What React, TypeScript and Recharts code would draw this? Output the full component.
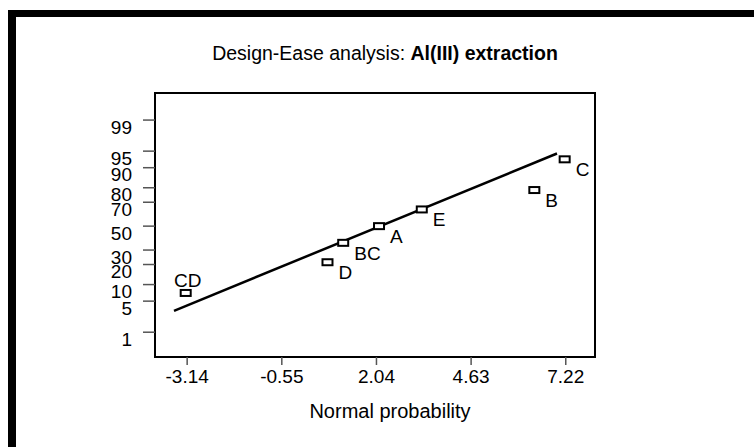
import { ComposedChart, Scatter, XAxis, YAxis, ReferenceArea, ReferenceLine } from 'recharts';

// effects
const effectNames = ['CD', 'D', 'BC', 'A', 'E', 'B', 'C'];
const effectValues = [-3.18, 0.7, 1.13, 2.11, 3.28, 6.36, 7.19];
const probabilityPct = [7.14, 21.43, 35.71, 50, 64.29, 78.57, 92.86];

// fitted line end points
const fitEffect = [-3.5, 6.98];
const fitPct = [3.17, 94.45];

const xTicks = [-3.14, -0.55, 2.04, 4.63, 7.22];
const yTickPct = [1, 5, 10, 20, 30, 50, 70, 80, 90, 95, 99];

const FONT = '"Liberation Sans", Arial, sans-serif';

// inverse of the standard normal CDF (Acklam), p in (0, 1)
function probit(p: number): number {
  const a = [-39.69683028665376, 220.9460984245205, -275.9285104469687, 138.357751867269, -30.66479806614716, 2.506628277459239];
  const b = [-54.47609879822406, 161.5858368580409, -155.6989798598866, 66.80131188771972, -13.28068155288572];
  const c = [-0.007784894002430293, -0.3223964580411365, -2.400758277161838, -2.549732539343734, 4.374664141464968, 2.938163982698783];
  const d = [0.007784695709041462, 0.3224671290700398, 2.445134137142996, 3.754408661907416];
  const lo = 0.02425;
  if (p < lo) {
    const q = Math.sqrt(-2 * Math.log(p));
    return (((((c[0] * q + c[1]) * q + c[2]) * q + c[3]) * q + c[4]) * q + c[5]) / ((((d[0] * q + d[1]) * q + d[2]) * q + d[3]) * q + 1);
  }
  if (p > 1 - lo) {
    const q = Math.sqrt(-2 * Math.log(1 - p));
    return -(((((c[0] * q + c[1]) * q + c[2]) * q + c[3]) * q + c[4]) * q + c[5]) / ((((d[0] * q + d[1]) * q + d[2]) * q + d[3]) * q + 1);
  }
  const q = p - 0.5;
  const r = q * q;
  return ((((((a[0] * r + a[1]) * r + a[2]) * r + a[3]) * r + a[4]) * r + a[5]) * q) / (((((b[0] * r + b[1]) * r + b[2]) * r + b[3]) * r + b[4]) * r + 1);
}

const points = effectNames.map((name, i) => ({
  name,
  x: effectValues[i],
  z: probit(probabilityPct[i] / 100),
}));

const fitSegment = fitEffect.map((x, i) => ({ x, y: probit(fitPct[i] / 100) }));
const yTicks = yTickPct.map((p) => probit(p / 100));

const xDomain: [number, number] = [-4.02, 8.02];
const yDomain: [number, number] = [-2.87, 2.92];

function EffectMarker(props: any) {
  const { cx, cy, payload } = props;
  const above = payload.name === 'CD';
  return (
    <g>
      <rect x={cx - 5} y={cy - 3} width={10} height={6} fill="#fff" stroke="#000" strokeWidth={2} />
      <text
        x={above ? cx + 2 : cx + 11}
        y={above ? cy - 6 : cy + 17}
        textAnchor={above ? 'middle' : 'start'}
        fontSize={19}
        fontFamily={FONT}
        fill="#000"
      >
        {payload.name}
      </text>
    </g>
  );
}

// 80/70 and 30/20 sit on top of each other in the original too
function YTick(props: any) {
  const { x, y, payload } = props;
  let idx = 0;
  yTicks.forEach((t, i) => {
    if (Math.abs(t - payload.value) < Math.abs(yTicks[idx] - payload.value)) idx = i;
  });
  return (
    <text x={x} y={y + 13.5} textAnchor="end" fontSize={19} fontFamily={FONT} fill="#000">
      {yTickPct[idx]}
    </text>
  );
}

function XTick(props: any) {
  const { x, y, payload } = props;
  return (
    <text x={x} y={y + 16} textAnchor="middle" fontSize={19} fontFamily={FONT} fill="#000">
      {payload.value.toFixed(2)}
    </text>
  );
}

export default function App() {
  return (
    <div style={{ position: 'absolute', left: 0, top: 0, width: 754, height: 447, background: '#fff', overflow: 'hidden' }}>
      <div
        style={{
          position: 'absolute',
          left: 8,
          top: 10,
          width: 780,
          height: 480,
          borderTop: '7px solid #000',
          borderLeft: '8px solid #000',
        }}
      />
      <div style={{ position: 'absolute', left: 0, top: 0 }}>
        <ComposedChart width={754} height={447} margin={{ top: 93, right: 159, bottom: 30, left: 95 }}>
          <XAxis
            type="number"
            dataKey="x"
            domain={xDomain}
            ticks={xTicks}
            interval={0}
            allowDataOverflow
            height={60}
            axisLine={false}
            tickSize={8}
            tickMargin={2}
            tickLine={{ stroke: '#555', strokeWidth: 1.5 }}
            tick={<XTick />}
          />
          <YAxis
            type="number"
            dataKey="z"
            domain={yDomain}
            ticks={yTicks}
            interval={0}
            allowDataOverflow
            width={60}
            axisLine={false}
            tickSize={12}
            tickMargin={11}
            tickLine={{ stroke: '#555', strokeWidth: 1.5 }}
            tick={<YTick />}
          />
          <ReferenceArea
            x1={xDomain[0]}
            x2={xDomain[1]}
            y1={yDomain[0]}
            y2={yDomain[1]}
            fill="none"
            fillOpacity={0}
            stroke="#000"
            strokeWidth={2}
            ifOverflow="visible"
          />
          <ReferenceLine segment={fitSegment} stroke="#000" strokeWidth={2.5} ifOverflow="visible" />
          <Scatter data={points} dataKey="z" shape={<EffectMarker />} isAnimationActive={false} />
        </ComposedChart>
      </div>
      <svg width={754} height={447} style={{ position: 'absolute', left: 0, top: 0, pointerEvents: 'none' }}>
        <text x={385} y={60} textAnchor="middle" fontSize={19.5} fontFamily={FONT} fill="#000">
          Design-Ease analysis: <tspan fontWeight="bold">Al(III) extraction</tspan>
        </text>
        <text x={390} y={418} textAnchor="middle" fontSize={20} fontFamily={FONT} fill="#000">
          Normal probability
        </text>
      </svg>
    </div>
  );
}
